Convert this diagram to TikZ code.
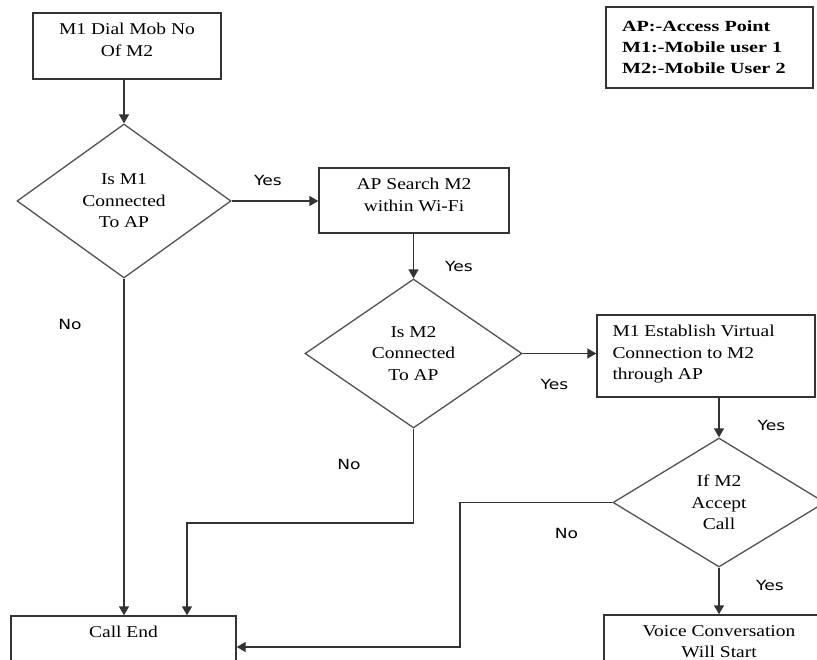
\documentclass[tikz,border=0pt]{standalone}
\usepackage{fontspec}
\setmainfont{Liberation Serif}[FakeStretch=1.18]
\newfontfamily\labfont{DejaVu Sans}[FakeStretch=1.22]
\newfontfamily\legfont{Liberation Serif}[FakeStretch=1.3]
\usetikzlibrary{shapes.geometric,arrows.meta}
\definecolor{ln}{HTML}{333333}
\tikzset{
  box/.style={draw=ln, line width=1.4pt, rectangle, inner sep=0pt},
  diam/.style={draw=ln!85, line width=1.3pt, diamond, inner sep=0pt, align=center,
    font=\fontsize{16.5}{21.5}\selectfont},
  txt/.style={inner sep=0pt, align=center, font=\fontsize{16.5}{21.5}\selectfont},
  lab/.style={inner sep=0pt, font=\labfont\fontsize{14}{15}\selectfont},
  conn/.style={draw=ln, line width=1.4pt},
  arr/.style={conn, -{Triangle[length=9pt,width=10pt]}}
}
\begin{document}
\begin{tikzpicture}[x=1pt,y=-1pt]
\useasboundingbox (0,0) rectangle (817,660);
\clip (0,0) rectangle (817,660);
\fill[white] (0,0) rectangle (817,660);

% boxes
\node[box, minimum width=188pt, minimum height=66pt] (b1) at (127,46) {};
\node[txt, anchor=north] (t1) at ([yshift=-11pt]b1.north) {M1 Dial Mob No\\Of M2};

\node[box, minimum width=190pt, minimum height=65pt] (b2) at (414,200.5) {};
\node[txt, anchor=north] (t2) at ([yshift=-11pt]b2.north) {AP Search M2\\within Wi-Fi};

\node[box, minimum width=218pt, minimum height=82pt] (b3) at (706,356) {};
\node[txt, anchor=north west, align=left] (t3) at ([xshift=16pt,yshift=-11pt]b3.north west) {M1 Establish Virtual\\Connection to M2\\through AP};

\node[box, minimum width=225pt, minimum height=62pt] (ce) at (123.5,647) {};
\node[txt, anchor=north] (t5) at ([yshift=-11pt]ce.north) {Call End};

\node[box, minimum width=230pt, minimum height=70pt] (b4) at (719,650) {};
\node[txt, anchor=north] (t4) at ([yshift=-11pt]b4.north) {Voice Conversation\\Will Start};

% legend
\node[box, text width=175pt, inner xsep=16pt, minimum height=81pt, align=left,
  font=\legfont\bfseries\fontsize{15.5}{21}\selectfont] (leg) at (709.5,47.5)
  {AP:-Access Point\\M1:-Mobile user 1\\M2:-Mobile User 2};

% diamonds
\node[diam, minimum width=214pt, minimum height=154pt] (d1) at (124,201) {Is M1\\Connected\\To AP};
\node[diam, minimum width=217pt, minimum height=149pt] (d2) at (413.5,353.5) {Is M2\\Connected\\To AP};
\node[diam, minimum width=212pt, minimum height=129pt] (d3) at (719,502.5) {If M2\\Accept\\Call};

% connectors
\draw[arr] (d1.north |- b1.south) -- (d1.north);
\draw[arr] (d1.east) -- (d1.east -| b2.west);
\draw[arr] (d2.north |- b2.south) -- (d2.north);
\draw[arr] (d2.east) -- (d2.east -| b3.west);
\draw[arr] (d3.north |- b3.south) -- (d3.north);
\draw[arr] (d3.south) -- (b4.north);
\draw[arr] (d1.south) -- (d1.south |- ce.north);
\coordinate (c1) at (187,523);
\draw[arr] (d2.south) |- (c1) -- (c1 |- ce.north);
\coordinate (c2) at (460,502.5);
\draw[arr] (d3.west) -- (c2) |- (ce.east);

% labels
\node[lab] (y1) at (268,180.5) {Yes};
\node[lab] (n1) at (70,324) {No};
\node[lab] (y2) at (459,266) {Yes};
\node[lab] (y3) at (554.5,384) {Yes};
\node[lab] (n2) at (349,464) {No};
\node[lab] (y4) at (771.5,425) {Yes};
\node[lab] (n3) at (566.5,533) {No};
\node[lab] (y5) at (770,585) {Yes};
\end{tikzpicture}
\end{document}
